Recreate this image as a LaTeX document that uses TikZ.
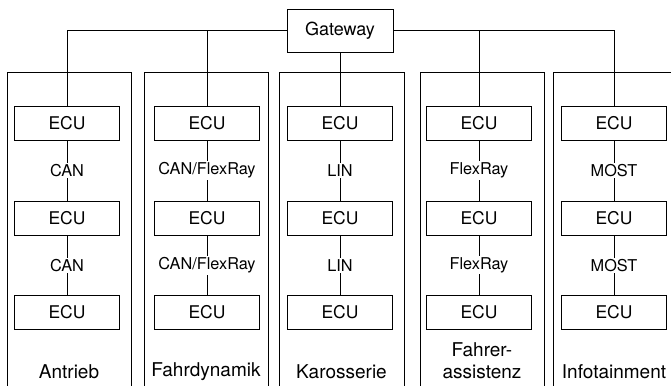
\documentclass[tikz,border=0pt]{standalone}
\usepackage{fontspec}
\setmainfont{TeX Gyre Heros}
\begin{document}
\begin{tikzpicture}[x=1pt,y=-1pt,
  line width=0.8pt,
  ecu/.style={draw, fill=white, minimum width=105pt, minimum height=34pt, inner sep=0pt,
    font=\fontsize{17.5}{20}\selectfont},
  gw/.style={draw, fill=white, minimum width=106pt, minimum height=43pt, inner sep=0pt,
    font=\fontsize{18}{21}\selectfont},
  bus/.style={fill=white, inner sep=1.5pt, font=\fontsize{16.3}{19}\selectfont},
  domainlabel/.style={font=\fontsize{19}{22}\selectfont, align=center, inner sep=0pt},
  area/.style={draw}]
\useasboundingbox (0,0) rectangle (671,385);
\begin{scope}
\clip (0,0) rectangle (671,385);
% domain frames, open towards the bottom
\draw[area] (7,395) |- (131,72) -- (131,395);
\draw[area] (144,395) |- (268,72) -- (268,395);
\draw[area] (279,395) |- (404,72) -- (404,395);
\draw[area] (420,395) |- (544,72) -- (544,395);
\draw[area] (553,395) |- (677,72) -- (677,395);
\end{scope}

% ECUs per domain
\foreach \c/\x in {a/67, b/207, c/340, d/479, e/614} {
  \node[ecu] (\c1) at (\x,123) {ECU};
  \node[ecu] (\c2) at (\x,218) {ECU};
  \node[ecu] (\c3) at (\x,312.5) {ECU};
}

% central gateway and its bus
\node[gw] (gw) at (340,30.5) {Gateway};
\draw (gw.west) -| (a1.north);
\draw (gw.west) -| (b1.north);
\draw (gw.south) -- (c1.north);
\draw (gw.east) -| (d1.north);
\draw (gw.east) -| (e1.north);

% domain buses
\draw (a1) -- node[bus]{CAN} (a2);
\draw (a2) -- node[bus]{CAN} (a3);
\draw (b1) -- node[bus]{CAN/FlexRay} (b2);
\draw (b2) -- node[bus]{CAN/FlexRay} (b3);
\draw (c1) -- node[bus]{LIN} (c2);
\draw (c2) -- node[bus]{LIN} (c3);
\draw (d1) -- node[bus]{FlexRay} (d2);
\draw (d2) -- node[bus]{FlexRay} (d3);
\draw (e1) -- node[bus]{MOST} (e2);
\draw (e2) -- node[bus]{MOST} (e3);

% domain names
\node[domainlabel] (la) at (69,372) {Antrieb};
\node[domainlabel] (lb) at (206,372) {Fahrdynamik};
\node[domainlabel] (lc) at (341.5,372) {Karosserie};
\node[domainlabel] (ld) at (482,361) {Fahrer-\\assistenz};
\node[domainlabel] (le) at (614,372) {Infotainment};
\end{tikzpicture}
\end{document}
